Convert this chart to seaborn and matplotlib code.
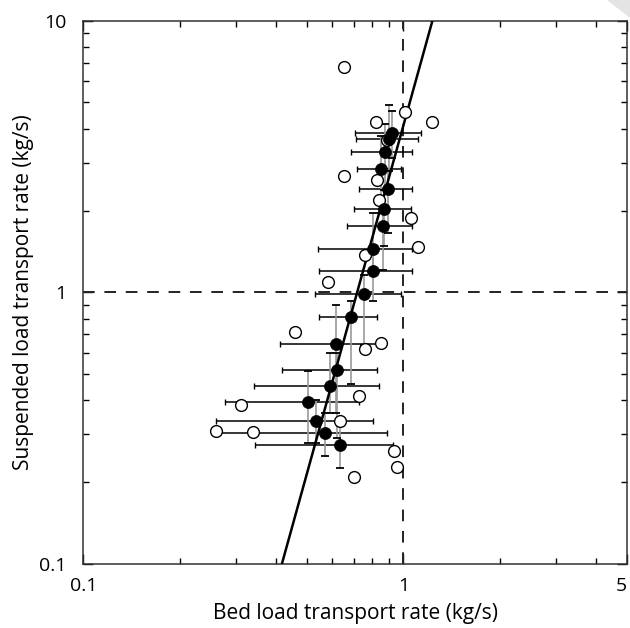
"""
Bed load vs suspended load transport rate, log-log scatter with error bars
and a power-law fit.
"""
import matplotlib
matplotlib.use("Agg")
import matplotlib.pyplot as plt
import numpy as np
import pandas as pd
from matplotlib.ticker import FixedLocator, NullFormatter, FixedFormatter
from matplotlib.patches import Polygon

import seaborn as sns

# binned means (filled circles)
bed_mean = [0.924, 0.904, 0.878, 0.852, 0.898, 0.870, 0.862, 0.803, 0.806,
            0.754, 0.688, 0.615, 0.622, 0.590, 0.504, 0.534, 0.570, 0.636]
susp_mean = [3.87, 3.66, 3.27, 2.85, 2.40, 2.02, 1.76, 1.44, 1.195,
             0.986, 0.809, 0.645, 0.518, 0.451, 0.395, 0.336, 0.3035, 0.275]
# horizontal spread (bed load low / high)
bed_lo = [0.708, 0.711, 0.688, 0.718, 0.729, 0.700, 0.668, 0.543, 0.545,
          0.529, 0.546, 0.412, 0.419, 0.342, 0.278, 0.260, 0.261, 0.345]
bed_hi = [1.138, 1.109, 1.067, 0.981, 1.065, 1.055, 1.062, 1.062, 1.062,
          0.981, 0.829, 0.846, 0.826, 0.839, 0.729, 0.806, 0.891, 0.931]
# vertical spread (suspended load low / high)
susp_lo = [3.12, 2.79, 2.38, 1.96, 1.65, 1.48, 1.21, 1.21, 0.93,
           0.64, 0.46, 0.36, 0.29, 0.36, 0.28, 0.28, 0.25, 0.225]
susp_hi = [4.63, 4.88, 4.15, 3.75, 2.79, 2.38, 2.10, 1.96, 1.43,
           1.16, 0.93, 0.90, 0.60, 0.60, 0.515, 0.40, 0.36, 0.327]

# individual events (open circles)
bed_single = [1.014, 0.823, 1.232, 0.887, 0.653, 0.827, 0.838, 1.059, 1.109,
              0.758, 0.583, 0.458, 0.850, 0.758, 0.726, 0.310, 0.633, 0.259,
              0.338, 0.933, 0.954, 0.701, 0.653]
susp_single = [4.61, 4.23, 4.23, 3.62, 2.68, 2.59, 2.18, 1.88, 1.47,
               1.37, 1.09, 0.714, 0.649, 0.617, 0.415, 0.384, 0.336, 0.309,
               0.305, 0.2606, 0.228, 0.209, 6.75]

# power-law fit  Qs = a * Qb^b
fit_a = 4.1
fit_b = 4.25

sns.set_theme(style="ticks")
plt.rcParams['font.family'] = ['Open Sans', 'DejaVu Sans']

fig = plt.figure(figsize=(6.3, 6.28), dpi=100)
ax = fig.add_axes([0.1322, 0.1019, 0.863, 0.8653])

bed_mean = np.array(bed_mean)
susp_mean = np.array(susp_mean)

# horizontal bars (black)
ax.errorbar(bed_mean, susp_mean,
            xerr=[bed_mean - np.array(bed_lo), np.array(bed_hi) - bed_mean],
            fmt='none', ecolor='black', elinewidth=1.1, capsize=2.5,
            capthick=1.0, zorder=2)
# vertical bars (grey line, black caps)
eb = ax.errorbar(bed_mean, susp_mean,
                 yerr=[susp_mean - np.array(susp_lo), np.array(susp_hi) - susp_mean],
                 fmt='none', ecolor='#999999', elinewidth=1.2, capsize=3,
                 capthick=1.3, zorder=2)
for cap in eb[1]:
    cap.set_color('black')
    cap.set_markeredgecolor('black')
    cap.set_markerfacecolor('black')

# fit line
xfit = np.logspace(np.log10(0.35), np.log10(1.35), 50)
fit_df = pd.DataFrame({"x": xfit, "y": fit_a * xfit ** fit_b})
sns.lineplot(data=fit_df, x="x", y="y", color='black', linewidth=1.8,
             ax=ax, zorder=3)

# reference lines at 1
ax.axvline(1, color='#222222', linestyle=(0, (6, 5)), linewidth=1.4, zorder=1)
ax.axhline(1, color='#222222', linestyle=(0, (6, 5)), linewidth=1.4, zorder=1)

sns.scatterplot(x=bed_single, y=susp_single, ax=ax, s=72, color='white',
                edgecolor='black', linewidth=1.0, zorder=4)
sns.scatterplot(x=bed_mean, y=susp_mean, ax=ax, s=75, color='black',
                edgecolor='black', linewidth=0.5, zorder=5)

ax.set_xscale('log')
ax.set_yscale('log')
ax.set_xlim(0.1, 5)
ax.set_ylim(0.1, 10)

ax.xaxis.set_major_locator(FixedLocator([0.1, 1, 5]))
ax.xaxis.set_major_formatter(FixedFormatter(['0.1', '1', '5']))
ax.xaxis.set_minor_locator(FixedLocator([0.2, 0.3, 0.4, 0.5, 0.6, 0.7, 0.8, 0.9, 2, 3, 4]))
ax.xaxis.set_minor_formatter(NullFormatter())
ax.yaxis.set_major_locator(FixedLocator([0.1, 1, 10]))
ax.yaxis.set_major_formatter(FixedFormatter(['0.1', '1', '10']))
ax.yaxis.set_minor_locator(FixedLocator([0.2, 0.3, 0.4, 0.5, 0.6, 0.7, 0.8, 0.9,
                                         2, 3, 4, 5, 6, 7, 8, 9]))
ax.yaxis.set_minor_formatter(NullFormatter())

ax.tick_params(which='both', direction='in', top=True, right=True,
               color='black', width=1.0, labelsize=14, labelcolor='black')
ax.tick_params(which='major', length=7)
ax.tick_params(which='minor', length=4)
ax.tick_params(axis='x', which='major', pad=9)
ax.tick_params(axis='y', which='major', pad=12)
# keep the last x label inside the figure
ax.get_xticklabels()[-1].set_horizontalalignment('right')

for s in ax.spines.values():
    s.set_color('#333333')
    s.set_linewidth(1.1)

ax.set_xlabel('Bed load transport rate (kg/s)', fontsize=15, color='black', labelpad=6)
ax.set_ylabel('Suspended load transport rate (kg/s)', fontsize=15, color='black', labelpad=4)

# page-curl corner in the top right
fig.patches.append(Polygon([[0.963, 1.0], [1.0, 1.0], [1.0, 0.971]], closed=True,
                           transform=fig.transFigure, facecolor='#e4e4e4',
                           edgecolor='none'))

fig.savefig('out.png', dpi=100)
